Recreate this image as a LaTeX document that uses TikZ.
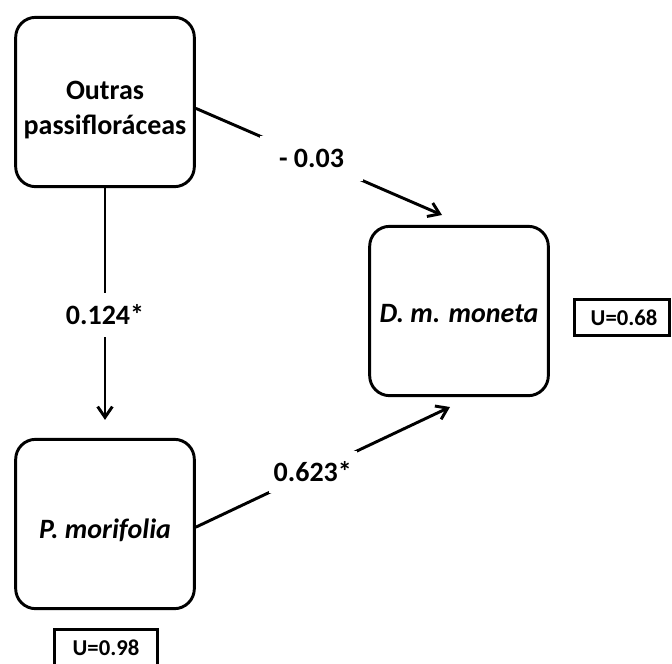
\documentclass[tikz,border=0pt]{standalone}
\usepackage{fontspec}
\setmainfont{Carlito}
\usetikzlibrary{arrows.meta}

\begin{document}
\begin{tikzpicture}[x=0.75pt, y=-0.75pt, line width=2.2pt, >={Straight Barb[length=8pt,width=11pt]},
  every node/.style={font=\fontsize{21}{26}\selectfont\bfseries},
  var/.style={draw, rounded corners=15pt, minimum width=134pt, minimum height=127pt, align=center, inner sep=0pt},
  coef/.style={fill=white, inner sep=0pt},
  resid/.style={draw, minimum height=27pt, inner sep=0pt, font=\fontsize{17}{20}\selectfont\bfseries}]
  \useasboundingbox (0,0) rectangle (672,664);

  \node[var] (outras) at (105,102) {\raisebox{0pt}[\dimexpr\height+12pt\relax]{\begin{tabular}{@{}c@{}}Outras\\passifloráceas\end{tabular}}};
  \node[var] (moneta) at (459,311) {\raisebox{0pt}[\dimexpr\height+4.5pt\relax]{\itshape D. m. moneta}};
  \node[var] (morifolia) at (105,524) {\raisebox{0pt}[\dimexpr\height+10pt\relax]{\itshape P. morifolia}};
  \node[resid, minimum width=71.5pt] (umoneta) at (622,317.5) {\hspace{3pt}U=0.68};
  \node[resid, minimum width=77.5pt] (umorifolia) at (106,647.5) {U=0.98};

  % free ends of the arrows
  \coordinate (tip1) at (442,215);
  \coordinate (tip2) at (450,407);
  \coordinate (tip3) at ([yshift=13.5pt]morifolia.north);

  \draw[->] (outras.-4) -- node[coef, minimum width=77pt, minimum height=34pt, pos=0.47] {- 0.03} (tip1);
  \draw[->] (outras.south) -- node[coef, minimum height=33pt, pos=0.547] {0.124*} (tip3);
  \draw[->] (morifolia.-2) -- node[coef, minimum width=66pt, minimum height=31.5pt, pos=0.46] {0.623*} (tip2);
\end{tikzpicture}
\end{document}
